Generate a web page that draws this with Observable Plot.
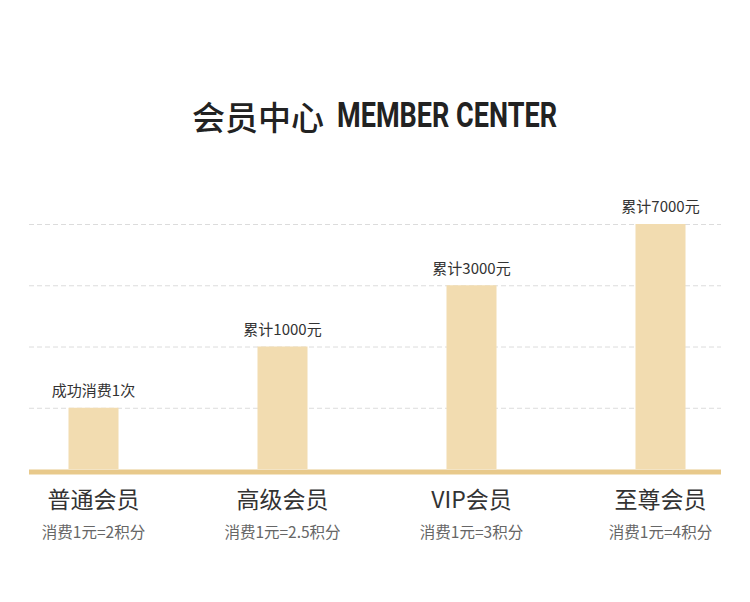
<!DOCTYPE html>
<html>
<head>
<meta charset="utf-8">
<script src="https://cdn.jsdelivr.net/npm/d3@7"></script>
<script src="https://cdn.jsdelivr.net/npm/@observablehq/plot@0.6"></script>
<style>
  html, body { margin: 0; padding: 0; background: #fff; }
  body { width: 750px; height: 602px; overflow: hidden; }
  #title { position: relative; height: 160px; color: #222; }
  #title span { position: absolute; top: 96px; line-height: 40px; white-space: nowrap; }
  #title .cn { left: 192px; font-family: "Noto Sans CJK SC", sans-serif; font-size: 33px; font-weight: 500; }
  #title .en { left: 337px; font-family: Roboto, "Liberation Sans", sans-serif; font-size: 35px; font-weight: 700; transform-origin: left center; }
  #chart svg { display: block; }
</style>
</head>
<body>
<div id="title"><span class="cn">会员中心</span><span class="en">MEMBER CENTER</span></div>
<div id="chart"></div>
<script>
const tiers = ["普通会员", "高级会员", "VIP会员", "至尊会员"];
const levels = [1, 2, 3, 4];
const thresholds = ["成功消费1次", "累计1000元", "累计3000元", "累计7000元"];
const rates = ["消费1元=2积分", "消费1元=2.5积分", "消费1元=3积分", "消费1元=4积分"];
const gridLevels = [1, 2, 3, 4];

const data = tiers.map((t, i) => ({tier: t, level: levels[i], threshold: thresholds[i], rate: rates[i]}));

// condense the latin part of the title to the reference width
const en = document.querySelector("#title .en");
const w = en.getBoundingClientRect().width;
en.style.transform = `scaleX(${220 / w})`;

const font = "'Noto Sans CJK SC', sans-serif";

const chart = Plot.plot({
  width: 750,
  height: 442,
  marginLeft: 29,
  marginRight: 29,
  marginTop: 64,
  marginBottom: 133,
  insetLeft: 63,
  insetRight: 60,
  style: {fontFamily: font, background: "#fff"},
  x: {type: "point", domain: tiers, padding: 0, axis: null},
  y: {domain: [0, 4], axis: null},
  marks: [
    Plot.ruleY(gridLevels, {stroke: "#dcdcdc", strokeWidth: 1, strokeDasharray: "5,3"}),
    Plot.ruleX(data, {x: "tier", y1: 0, y2: "level", stroke: "#f2dcb0", strokeWidth: 50}),
    Plot.ruleY([0], {stroke: "#e8c98b", strokeWidth: 5, dy: 2.5}),
    Plot.text(data, {x: "tier", y: "level", text: "threshold", dy: -17, fontSize: 15, fill: "#333"}),
    Plot.text(data, {x: "tier", y: 0, text: "tier", dy: 31, fontSize: 23, fill: "#333"}),
    Plot.text(data, {x: "tier", y: 0, text: "rate", dy: 64, fontSize: 15.5, fill: "#666"})
  ]
});
document.getElementById("chart").appendChild(chart);
</script>
</body>
</html>
